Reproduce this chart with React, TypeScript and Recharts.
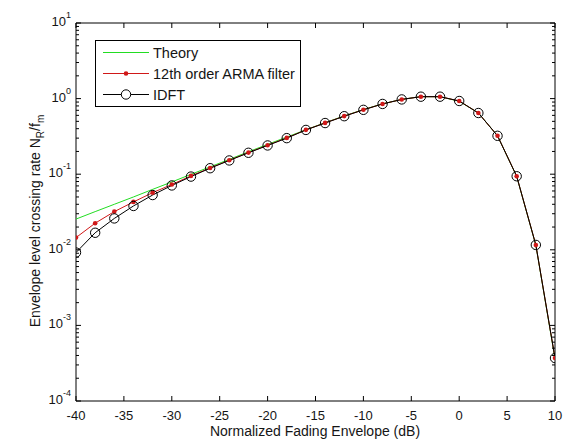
import React from "react";
import { LineChart, Line, XAxis, YAxis, ReferenceArea } from "recharts";

// normalized fading envelope (dB)
const fadingDb = [
  -40, -38, -36, -34, -32, -30, -28, -26, -24, -22, -20, -18, -16, -14, -12,
  -10, -8, -6, -4, -2, 0, 2, 4, 6, 8, 10,
];

const theory = [
  0.0255, 0.032, 0.04, 0.05, 0.063, 0.079, 0.0995, 0.125, 0.157, 0.198, 0.248,
  0.31, 0.387, 0.48, 0.59, 0.717, 0.852, 0.977, 1.062, 1.059, 0.922, 0.647,
  0.322, 0.0934, 0.0115, 0.00036,
];

const arma = [
  0.0145, 0.0225, 0.032, 0.043, 0.057, 0.073, 0.095, 0.121, 0.153, 0.193,
  0.242, 0.302, 0.386, 0.477, 0.587, 0.712, 0.85, 0.975, 1.06, 1.06, 0.93,
  0.645, 0.322, 0.094, 0.0116, 0.00037,
];

const idft = [
  0.0092, 0.0168, 0.026, 0.038, 0.053, 0.071, 0.093, 0.12, 0.152, 0.192, 0.24,
  0.3, 0.385, 0.475, 0.585, 0.71, 0.85, 0.975, 1.06, 1.06, 0.93, 0.645, 0.322,
  0.094, 0.0116, 0.00037,
];

const xTicks = [-40, -35, -30, -25, -20, -15, -10, -5, 0, 5, 10];
const decadeTicks = [1e-4, 1e-3, 1e-2, 1e-1, 1, 10];
const seriesNames = ["Theory", "12th order ARMA filter", "IDFT"];

const minorTicks: number[] = [];
decadeTicks.slice(0, -1).forEach((d) => {
  for (let k = 2; k <= 9; k++) minorTicks.push(d * k);
});
const yTicks = [...decadeTicks, ...minorTicks].sort((a, b) => a - b);

const data = fadingDb.map((x, i) => ({
  x,
  theory: theory[i],
  arma: arma[i],
  idft: idft[i],
}));

const W = 563;
const H = 439;
const PLOT_LEFT = 76;
const PLOT_RIGHT = 555;
const PLOT_TOP = 23;
const PLOT_BOTTOM = 401;
const FONT = "'Liberation Sans', Arial, Helvetica, sans-serif";
const TXT = "#151515";
const RED = "#d01818";
const GREEN = "#22dd22";

const XTick = (props: any) => {
  const { x, payload } = props;
  return (
    <g>
      <line x1={x} x2={x} y1={PLOT_BOTTOM} y2={PLOT_BOTTOM - 5} stroke="#000" />
      <line x1={x} x2={x} y1={PLOT_TOP} y2={PLOT_TOP + 5} stroke="#000" />
      <text
        x={x}
        y={PLOT_BOTTOM + 19}
        textAnchor="middle"
        fontSize={13}
        fontFamily={FONT}
        fill={TXT}
      >
        {payload.value}
      </text>
    </g>
  );
};

const YTick = (props: any) => {
  const { y, payload } = props;
  const lg = Math.log10(payload.value);
  const exp = Math.round(lg);
  const major = Math.abs(lg - exp) < 1e-6;
  const len = major ? 5 : 3;
  return (
    <g>
      <line x1={PLOT_LEFT} x2={PLOT_LEFT + len} y1={y} y2={y} stroke="#000" />
      <line x1={PLOT_RIGHT} x2={PLOT_RIGHT - len} y1={y} y2={y} stroke="#000" />
      {major && (
        <text
          x={PLOT_LEFT - 5}
          y={y + 3}
          textAnchor="end"
          fontSize={13}
          fontFamily={FONT}
          fill={TXT}
        >
          <tspan>10</tspan>
          <tspan dy={-8} fontSize={9}>
            {exp}
          </tspan>
        </text>
      )}
    </g>
  );
};

const ArmaDot = (props: any) => {
  const { cx, cy } = props;
  if (cx == null || cy == null) return null;
  return <circle cx={cx} cy={cy} r={2.3} fill={RED} stroke="none" />;
};

const legendColors = [GREEN, RED, "#000"];

function LegendBox() {
  return (
    <svg
      width={206}
      height={67}
      style={{ position: "absolute", left: 95, top: 40 }}
    >
      <rect x={0.5} y={0.5} width={205} height={66} fill="#fff" stroke="#000" />
      {seriesNames.map((name, i) => {
        const cy = 12.5 + i * 21;
        return (
          <g key={name}>
            <line x1={8} x2={54} y1={cy} y2={cy} stroke={legendColors[i]} />
            {i === 1 && <circle cx={31} cy={cy} r={2.3} fill={RED} />}
            {i === 2 && (
              <circle cx={31} cy={cy} r={4.7} fill="#fff" stroke="#000" />
            )}
            <text
              x={58}
              y={cy + 5}
              fontSize={14.5}
              fontFamily={FONT}
              fill={TXT}
            >
              {name}
            </text>
          </g>
        );
      })}
    </svg>
  );
}

export default function App() {
  return (
    <div
      style={{
        position: "absolute",
        left: 0,
        top: 0,
        width: W,
        height: H,
        background: "#fff",
      }}
    >
      <LineChart
        width={W}
        height={H}
        data={data}
        margin={{ top: PLOT_TOP, right: W - PLOT_RIGHT, bottom: 0, left: 0 }}
      >
        <XAxis
          dataKey="x"
          type="number"
          domain={[-40, 10]}
          ticks={xTicks}
          interval={0}
          height={H - PLOT_BOTTOM}
          axisLine={false}
          tickLine={false}
          tick={<XTick />}
          allowDataOverflow
        />
        <YAxis
          scale="log"
          type="number"
          domain={[1e-4, 10]}
          ticks={yTicks}
          interval={0}
          width={PLOT_LEFT}
          axisLine={false}
          tickLine={false}
          tick={<YTick />}
          allowDataOverflow
        />
        <ReferenceArea
          x1={-40}
          x2={10}
          y1={1e-4}
          y2={10}
          fill="none"
          stroke="#000"
          strokeWidth={1}
          fillOpacity={0}
        />
        <Line
          dataKey="theory"
          stroke={GREEN}
          strokeWidth={1}
          dot={false}
          isAnimationActive={false}
        />
        <Line
          dataKey="arma"
          stroke={RED}
          strokeWidth={1}
          dot={<ArmaDot />}
          isAnimationActive={false}
        />
        <Line
          dataKey="idft"
          stroke="#000"
          strokeWidth={1}
          dot={{ r: 4.7, fill: "none", stroke: "#000", strokeWidth: 1 }}
          isAnimationActive={false}
        />
      </LineChart>
      <LegendBox />
      <svg
        width={W}
        height={H}
        style={{ position: "absolute", left: 0, top: 0, pointerEvents: "none" }}
      >
        <text
          x={315}
          y={436}
          textAnchor="middle"
          fontSize={14}
          fontFamily={FONT}
          fill={TXT}
        >
          Normalized Fading Envelope (dB)
        </text>
        <text
          transform="translate(40,221) rotate(-90)"
          textAnchor="middle"
          fontSize={14}
          fontFamily={FONT}
          fill={TXT}
        >
          Envelope level crossing rate N
          <tspan dy={4} fontSize={10}>
            R
          </tspan>
          <tspan dy={-4}>/f</tspan>
          <tspan dy={4} fontSize={10}>
            m
          </tspan>
        </text>
      </svg>
    </div>
  );
}
